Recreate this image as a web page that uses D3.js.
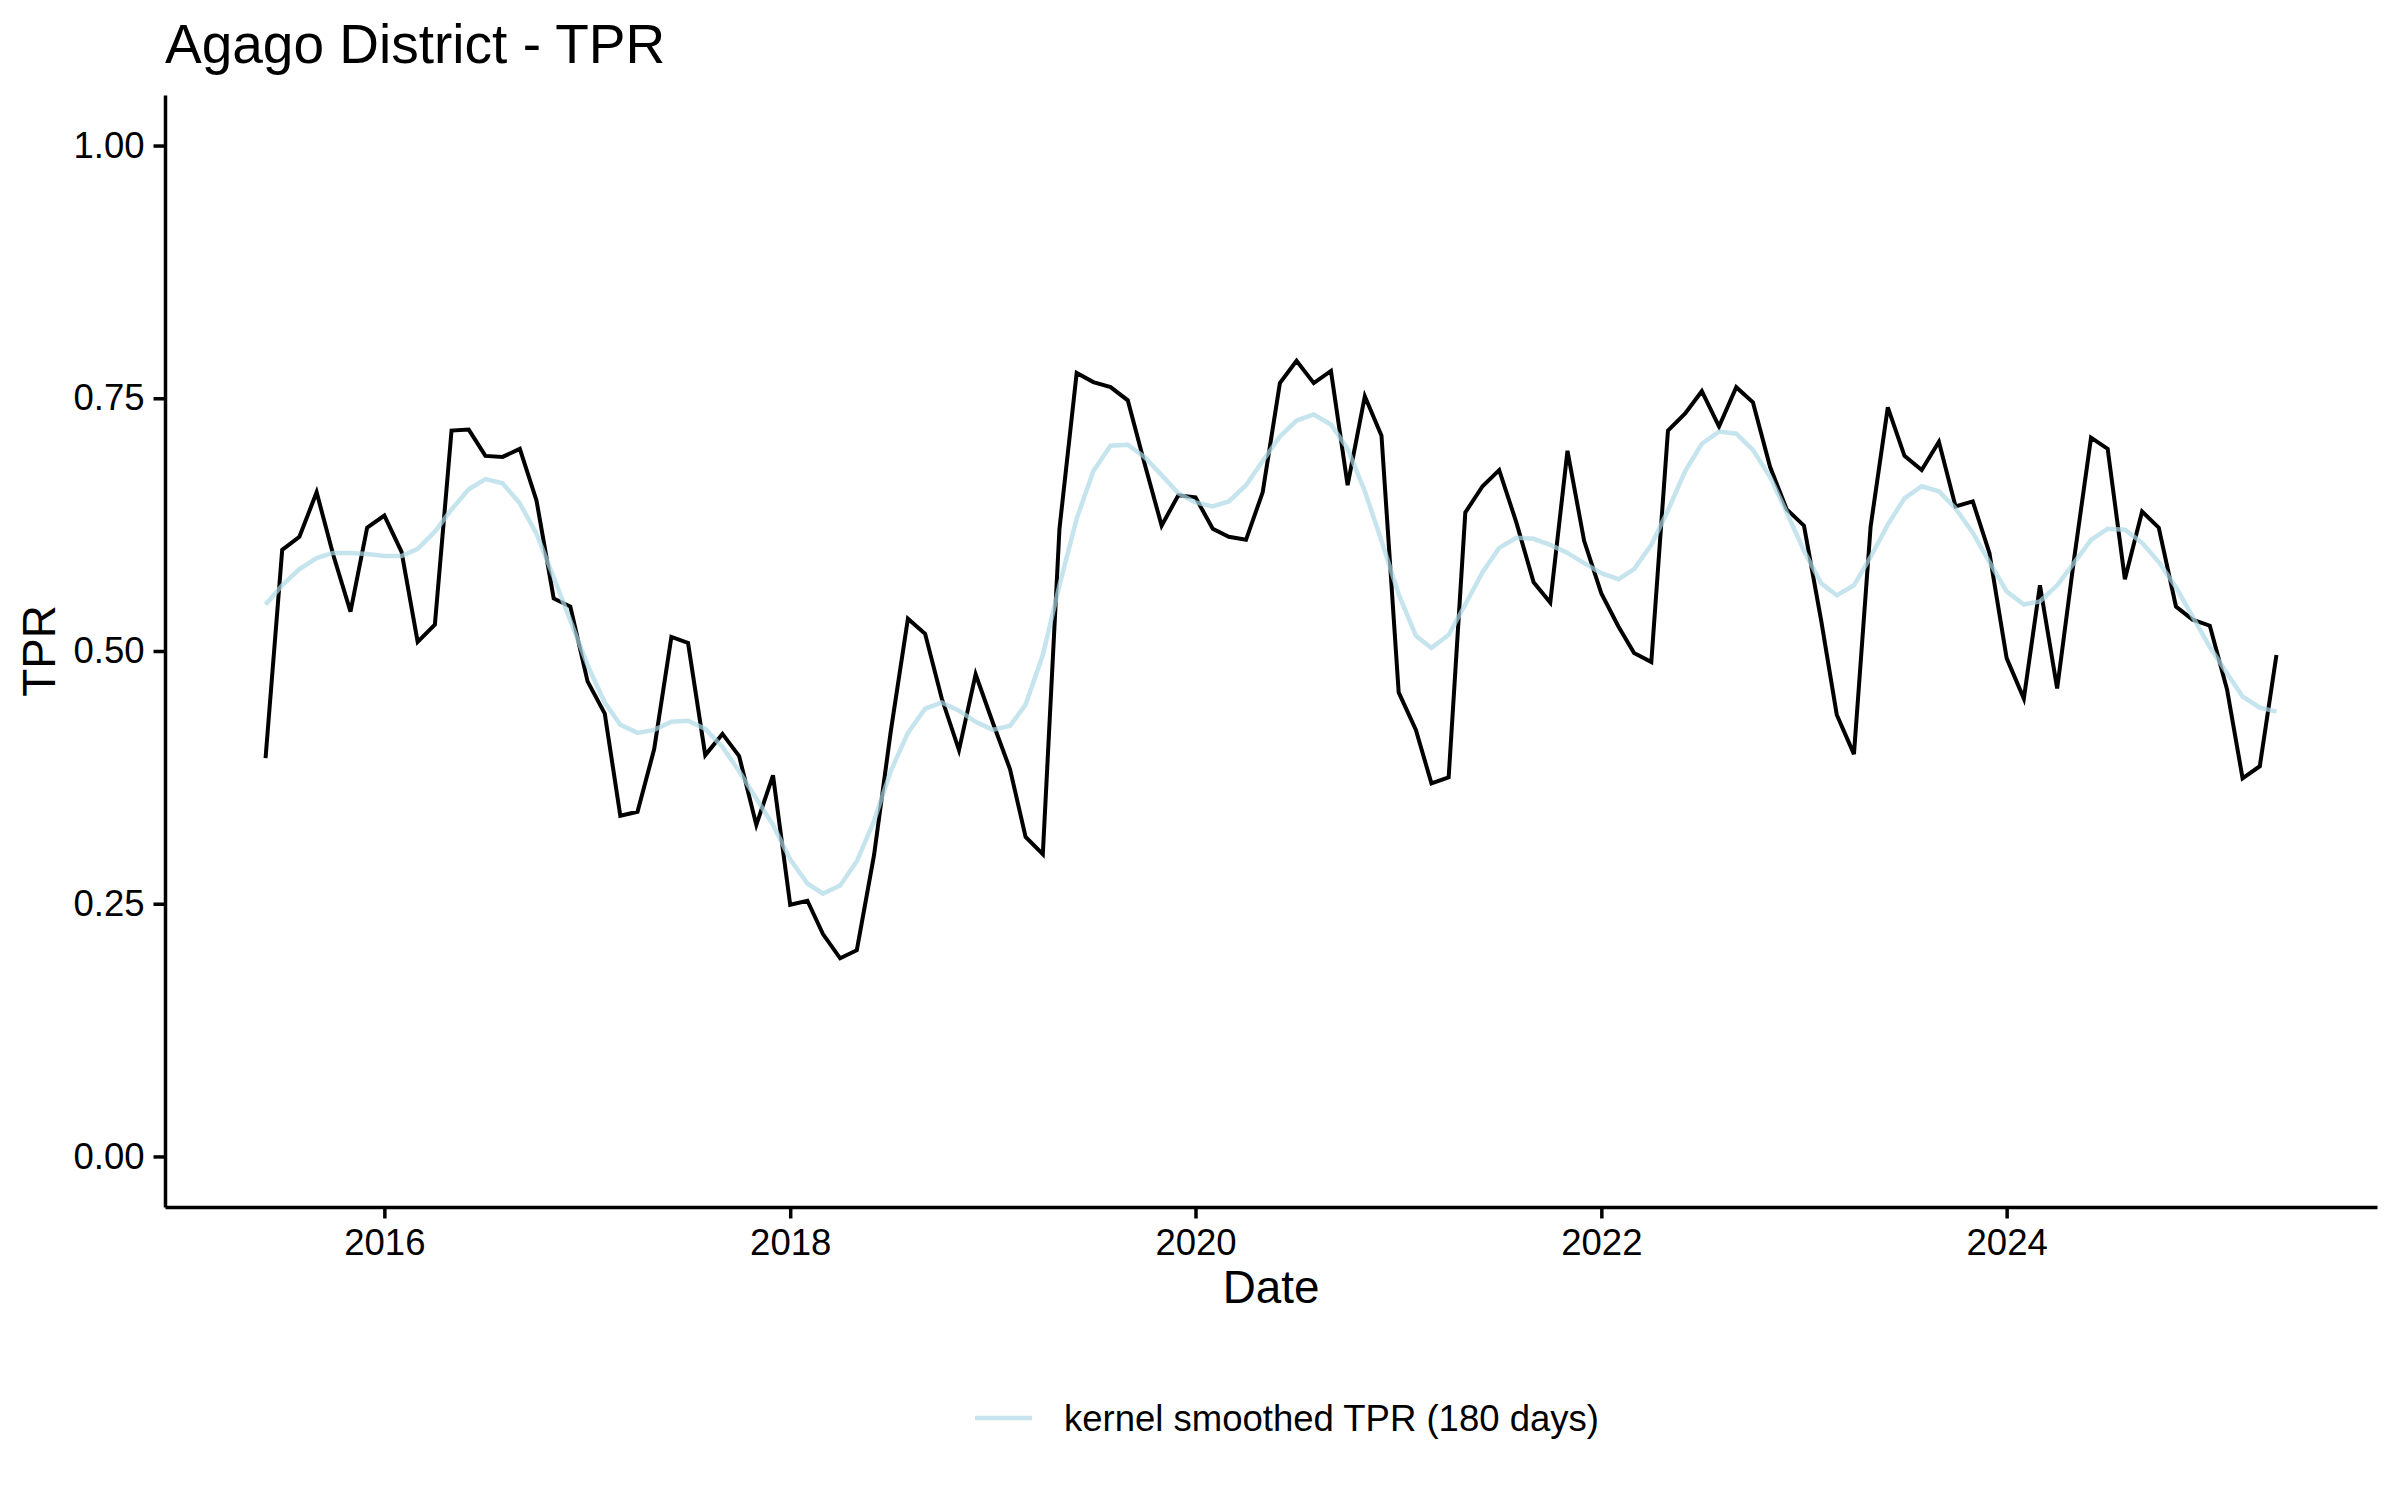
<!DOCTYPE html>
<html>
<head>
<meta charset="utf-8">
<script src="https://cdn.jsdelivr.net/npm/d3@7"></script>
<style>
  body { margin: 0; background: #fff; }
  text { font-family: "Liberation Sans", Arial, Helvetica, sans-serif; }
</style>
</head>
<body>
<div id="chart"></div>
<script>
// Monthly data, first month and last month of the series
const firstMonth = "2015-06-01";
const lastMonth = "2025-05-01";

// Observed TPR per month
const tpr = [
  0.394, 0.600, 0.613, 0.657, 0.595, 0.539, 0.622, 0.634, 0.598, 0.509, 0.526, 0.718,
  0.719, 0.693, 0.692, 0.700, 0.649, 0.552, 0.544, 0.470, 0.438, 0.337, 0.341, 0.403,
  0.514, 0.508, 0.397, 0.418, 0.396, 0.328, 0.377, 0.249, 0.253, 0.220, 0.196, 0.204,
  0.298, 0.420, 0.532, 0.517, 0.453, 0.402, 0.477, 0.429, 0.383, 0.316, 0.299, 0.621,
  0.775, 0.766, 0.761, 0.748, 0.686, 0.624, 0.654, 0.652, 0.621, 0.613, 0.610, 0.657,
  0.765, 0.787, 0.765, 0.777, 0.664, 0.752, 0.713, 0.459, 0.422, 0.369, 0.375, 0.637,
  0.663, 0.679, 0.627, 0.568, 0.548, 0.698, 0.609, 0.557, 0.524, 0.498, 0.489, 0.718,
  0.735, 0.757, 0.722, 0.761, 0.746, 0.682, 0.640, 0.624, 0.530, 0.437, 0.398, 0.623,
  0.741, 0.693, 0.679, 0.707, 0.643, 0.648, 0.597, 0.493, 0.453, 0.565, 0.463, 0.589,
  0.711, 0.700, 0.571, 0.638, 0.622, 0.544, 0.531, 0.525, 0.462, 0.374, 0.386, 0.496
];

// Kernel smoothed TPR (180 days)
const smoothTpr = [
  0.546, 0.565, 0.581, 0.592, 0.597, 0.597, 0.596, 0.594, 0.594, 0.601, 0.618, 0.640,
  0.660, 0.670, 0.666, 0.646, 0.616, 0.573, 0.530, 0.486, 0.449, 0.427, 0.419, 0.422,
  0.430, 0.431, 0.423, 0.405, 0.381, 0.354, 0.328, 0.294, 0.270, 0.260, 0.268, 0.292,
  0.332, 0.381, 0.419, 0.443, 0.449, 0.441, 0.430, 0.422, 0.426, 0.447, 0.496, 0.565,
  0.631, 0.678, 0.703, 0.704, 0.692, 0.674, 0.656, 0.647, 0.643, 0.648, 0.664, 0.688,
  0.712, 0.728, 0.734, 0.724, 0.700, 0.658, 0.609, 0.556, 0.515, 0.503, 0.516, 0.546,
  0.578, 0.602, 0.612, 0.611, 0.605, 0.597, 0.587, 0.577, 0.571, 0.581, 0.605, 0.639,
  0.678, 0.705, 0.717, 0.715, 0.699, 0.672, 0.637, 0.599, 0.567, 0.555, 0.565, 0.593,
  0.625, 0.651, 0.663, 0.658, 0.641, 0.617, 0.588, 0.559, 0.546, 0.549, 0.565, 0.587,
  0.610, 0.621, 0.620, 0.607, 0.588, 0.563, 0.534, 0.504, 0.478, 0.455, 0.444, 0.440
];

// Axis ticks
const xTickYears = ["2016", "2018", "2020", "2022", "2024"];
const yTicks = [0, 0.25, 0.5, 0.75, 1];

const titleText = "Agago District - TPR";
const legendLabel = "kernel smoothed TPR (180 days)";

// Dimensions
const width = 2400;
const height = 1500;
const panel = { left: 165, right: 2377, top: 95, bottom: 1207 };

const parseDate = d3.timeParse("%Y-%m-%d");
const dates = d3.timeMonth.range(parseDate(firstMonth), d3.timeMonth.offset(parseDate(lastMonth), 1));
const data = dates.map((d, i) => ({ date: d, tpr: tpr[i], smooth: smoothTpr[i] }));

const svg = d3.select("#chart")
  .append("svg")
  .attr("width", width)
  .attr("height", height)
  .attr("viewBox", `0 0 ${width} ${height}`);

svg.append("rect").attr("width", width).attr("height", height).attr("fill", "#fff");

// Scales (5% expansion like ggplot)
const [d0, d1] = d3.extent(dates);
const pad = (d1 - d0) * 0.05;
const x = d3.scaleTime()
  .domain([new Date(+d0 - pad), new Date(+d1 + pad)])
  .range([panel.left, panel.right]);

const y = d3.scaleLinear()
  .domain([-0.05, 1.05])
  .range([panel.bottom, panel.top]);

// Lines
const lineTpr = d3.line().x(d => x(d.date)).y(d => y(d.tpr));
const lineSmooth = d3.line().x(d => x(d.date)).y(d => y(d.smooth));

svg.append("path")
  .datum(data)
  .attr("d", lineTpr)
  .attr("fill", "none")
  .attr("stroke", "#000")
  .attr("stroke-width", 4)
  .attr("stroke-linejoin", "miter");

svg.append("path")
  .datum(data)
  .attr("d", lineSmooth)
  .attr("fill", "none")
  .attr("stroke", "#ADD8E6")
  .attr("stroke-opacity", 0.7)
  .attr("stroke-width", 4.5);

// Axes
const xAxis = d3.axisBottom(x)
  .tickValues(xTickYears.map(s => parseDate(s + "-01-01")))
  .tickFormat(d3.timeFormat("%Y"))
  .tickSize(11.5)
  .tickPadding(9)
  .tickSizeOuter(0);

const gx = svg.append("g")
  .attr("transform", `translate(0,${panel.bottom})`)
  .call(xAxis);

const yAxis = d3.axisLeft(y)
  .tickValues(yTicks)
  .tickFormat(d3.format(".2f"))
  .tickSize(11.5)
  .tickPadding(9)
  .tickSizeOuter(0);

const gy = svg.append("g")
  .attr("transform", `translate(${panel.left},0)`)
  .call(yAxis);

[gx, gy].forEach(g => {
  g.select(".domain").attr("stroke", "#000").attr("stroke-width", 3.5);
  g.selectAll(".tick line").attr("stroke", "#000").attr("stroke-width", 3.5);
  g.selectAll(".tick text")
    .attr("fill", "#000")
    .style("font-size", "36.5px")
    .style("font-family", "'Liberation Sans', Arial, sans-serif");
});
gx.selectAll(".tick text").attr("dy", "0.76em");

// Axis titles
svg.append("text")
  .attr("x", (panel.left + panel.right) / 2)
  .attr("y", 1303)
  .attr("text-anchor", "middle")
  .style("font-size", "45.8px")
  .text("Date");

svg.append("text")
  .attr("transform", `translate(55,${(panel.top + panel.bottom) / 2}) rotate(-90)`)
  .attr("text-anchor", "middle")
  .style("font-size", "45.8px")
  .text("TPR");

// Title
svg.append("text")
  .attr("x", 165)
  .attr("y", 62.5)
  .style("font-size", "55px")
  .text(titleText);

// Legend
const legend = svg.append("g");
legend.append("line")
  .attr("x1", 975).attr("x2", 1032)
  .attr("y1", 1418).attr("y2", 1418)
  .attr("stroke", "#ADD8E6")
  .attr("stroke-opacity", 0.7)
  .attr("stroke-width", 4.5);
legend.append("text")
  .attr("x", 1064)
  .attr("y", 1431)
  .style("font-size", "36.5px")
  .text(legendLabel);
</script>
</body>
</html>
